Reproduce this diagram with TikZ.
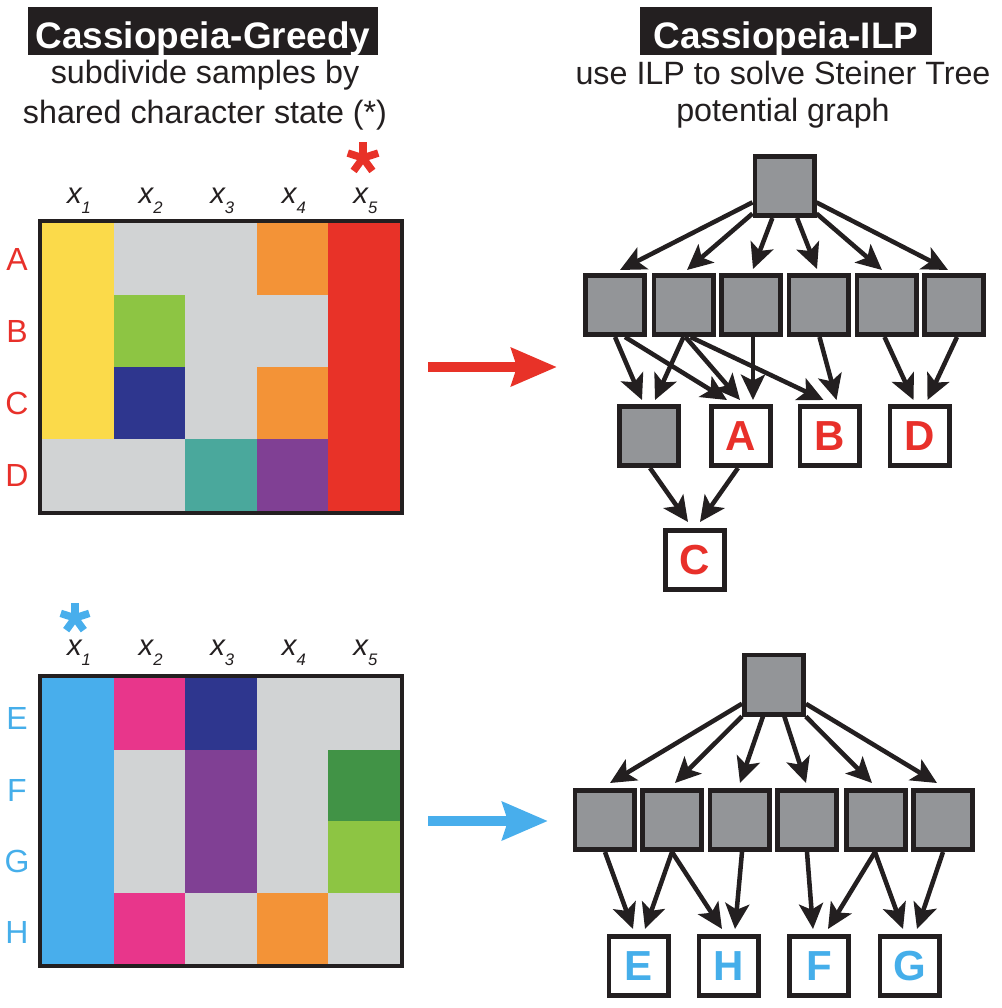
\documentclass[tikz,border=0pt]{standalone}
\usepackage{fontspec}
\setmainfont{Liberation Sans}
\usetikzlibrary{arrows.meta,calc}
\definecolor{ink}{HTML}{231F20}
\definecolor{nodegray}{HTML}{939598}
\definecolor{cgry}{HTML}{D1D3D4}
\definecolor{cyel}{HTML}{FBDA4A}
\definecolor{corg}{HTML}{F39337}
\definecolor{cred}{HTML}{E83228}
\definecolor{clgr}{HTML}{8DC543}
\definecolor{cnav}{HTML}{2E368E}
\definecolor{cteal}{HTML}{4AA89C}
\definecolor{cpur}{HTML}{804094}
\definecolor{cblu}{HTML}{48AEEC}
\definecolor{cpnk}{HTML}{E8368B}
\definecolor{cdgr}{HTML}{419346}
\definecolor{labred}{HTML}{E8302A}
\definecolor{labblu}{HTML}{45AEEA}
\tikzset{
  hdrtext/.style={text=white, font=\fontsize{27.7}{30}\selectfont\bfseries, inner sep=0pt, anchor=base},
  subtext/.style={text=ink, font=\fontsize{24.2}{26}\selectfont, inner sep=0pt, anchor=base},
  rowlab/.style={font=\fontsize{24}{24}\selectfont, inner sep=0pt},
  xlab/.style={text=ink, font=\fontsize{22}{22}\selectfont\itshape, inner sep=0pt, anchor=base west},
  gnode/.style={draw=ink, fill=nodegray, line width=3.4pt, minimum size=44.6pt, inner sep=0pt},
  wnode/.style={draw=ink, fill=white, line width=3.4pt, minimum size=44.6pt, inner sep=0pt, font=\fontsize{31.5}{31.5}\selectfont\bfseries},
  arr/.style={draw=ink, line width=3.4pt, -{Stealth[length=19pt 0 0,width=18pt 0 0,inset=4.5pt]}},
  bigarr/.style={line width=7.5pt, -{Stealth[length=34pt 0 0,width=28pt 0 0,inset=4pt]}},
  star/.style={line width=5.6pt},
  gridframe/.style={draw=ink, line width=3pt}
}
\newcommand{\xsub}[1]{x\raisebox{-7.5pt}{\fontsize{12.5}{12.5}\selectfont #1}}
\begin{document}
\begin{tikzpicture}[x=0.75pt,y=-0.75pt]
\useasboundingbox (0,0) rectangle (1002,1008);

% ---------- headers ----------
\fill[ink] (28,7) rectangle (378,55);
\node[hdrtext] (hdrL) at (203,48) {Cassiopeia-Greedy};
\node[subtext] (subL1) at (205,83) {subdivide samples by};
\node[subtext] (subL2) at (205,123) {shared character state (*)};
\fill[ink] (640,7) rectangle (932,55);
\node[hdrtext] (hdrR) at (786,48) {Cassiopeia-ILP};
\node[subtext] (subR1) at (783,84) {use ILP to solve Steiner Tree};
\node[subtext] (subR2) at (783,121) {potential graph};

% ---------- top grid ----------
\foreach \r/\cols in {0/{cyel,cgry,cgry,corg,cred},1/{cyel,clgr,cgry,cgry,cred},2/{cyel,cnav,cgry,corg,cred},3/{cgry,cgry,cteal,cpur,cred}}{
  \foreach \c [count=\i from 0] in \cols {
    \fill[\c] (42+71.6*\i,223+72*\r) rectangle ++(71.6,72);
  }
}
\draw[gridframe] (40,221) rectangle (402,513);
\foreach \i in {1,...,5}{
  \node[xlab] (tx\i) at (42+71.6*\i-35.8-11,203) {\xsub{\i}};
}
\node[rowlab, text=labred] (lA) at (17,259) {A};
\node[rowlab, text=labred] (lB) at (17,331) {B};
\node[rowlab, text=labred] (lC) at (17,403) {C};
\node[rowlab, text=labred] (lD) at (17,475) {D};
% red asterisk
\coordinate (rstar) at (363,158);
\foreach \a in {270,342,198,54,126}{
  \draw[star, cred] (rstar) -- ($(rstar)+(\a:16)$);
}

% ---------- bottom grid ----------
\foreach \r/\cols in {0/{cblu,cpnk,cnav,cgry,cgry},1/{cblu,cgry,cpur,cgry,cdgr},2/{cblu,cgry,cpur,cgry,clgr},3/{cblu,cpnk,cgry,corg,cgry}}{
  \foreach \c [count=\i from 0] in \cols {
    \fill[\c] (42+71.6*\i,678+71.5*\r) rectangle ++(71.6,71.5);
  }
}
\draw[gridframe] (40,676) rectangle (402,966);
\foreach \i in {1,...,5}{
  \node[xlab] (bx\i) at (42+71.6*\i-35.8-11,655) {\xsub{\i}};
}
\node[rowlab, text=labblu] (lE) at (17,718) {E};
\node[rowlab, text=labblu] (lF) at (17,790) {F};
\node[rowlab, text=labblu] (lG) at (17,861) {G};
\node[rowlab, text=labblu] (lH) at (17,932) {H};
\coordinate (bstar) at (75,618);
\foreach \a in {270,342,198,54,126}{
  \draw[star, cblu] (bstar) -- ($(bstar)+(\a:15)$);
}

% ---------- big arrows ----------
\coordinate (ra1) at (428,367);
\coordinate (ra2) at (557,367);
\draw[bigarr, cred] (ra1) -- (ra2);
\coordinate (ba1) at (428,821);
\coordinate (ba2) at (548,821);
\draw[bigarr, cblu] (ba1) -- (ba2);

% ---------- top tree ----------
\node[gnode] (T) at (784.5,186) {};
\foreach \n/\x in {1/615,2/683.5,3/751,4/818.5,5/886.5,6/954}{
  \node[gnode] (c\n) at (\x,305) {};
}
\node[gnode] (g) at (649,436) {};
\node[wnode, text=labred] (A) at (741,436) {A};
\node[wnode, text=labred] (B) at (829.5,436) {B};
\node[wnode, text=labred] (D) at (919.5,436) {D};
\node[wnode, text=labred] (C) at (695,560) {C};

\draw[arr] (T) -- ($(c1.north)+(5,-3)$);
\draw[arr] (T) -- ($(c2.north)+(3.5,-3)$);
\draw[arr] (T) -- ($(c3.north)+(2,-4)$);
\draw[arr] (T) -- ($(c4.north)+(-1.5,-4)$);
\draw[arr] (T) -- ($(c5.north)+(-4.5,-3)$);
\draw[arr] (T) -- ($(c6.north)+(-6,-3)$);

\draw[arr] ($(c1.south)+(0,0)$) -- ($(g.north)+(-7,-4)$);
\draw[arr] ($(c1.south)+(10,0)$) -- ($(A.north)+(-14,-4)$);
\draw[arr] ($(c2.south)+(0,0)$) -- ($(g.north)+(6,-4)$);
\draw[arr] ($(c2.south)+(2,0)$) -- ($(A.north)+(-1,-4)$);
\draw[arr] ($(c2.south)+(7,0)$) -- ($(B.north)+(-6,-4)$);
\draw[arr] ($(c3.south)+(2,0)$) -- ($(A.north)+(12,-4)$);
\draw[arr] ($(c4.south)+(1,0)$) -- ($(B.north)+(7,-4)$);
\draw[arr] ($(c5.south)+(-2,0)$) -- ($(D.north)+(-6,-4)$);
\draw[arr] ($(c6.south)+(3,0)$) -- ($(D.north)+(8,-4)$);
\draw[arr] ($(g.south)+(1,0)$) -- ($(C.north)+(-7,-6)$);
\draw[arr] ($(A.south)+(-3,0)$) -- ($(C.north)+(5,-6)$);

% ---------- bottom tree ----------
\node[gnode] (T2) at (774,684.5) {};
\foreach \n/\x in {1/604.5,2/672,3/739.5,4/807,5/876,6/943}{
  \node[gnode] (b\n) at (\x,820) {};
}
\node[wnode, text=labblu] (E) at (638.5,966) {E};
\node[wnode, text=labblu] (H) at (728.5,966) {H};
\node[wnode, text=labblu] (F) at (819,966) {F};
\node[wnode, text=labblu] (G) at (909.5,966) {G};

\draw[arr] (T2) -- ($(b1.north)+(5.5,-5)$);
\draw[arr] (T2) -- ($(b2.north)+(3,-5)$);
\draw[arr] (T2) -- ($(b3.north)+(0.5,-5)$);
\draw[arr] (T2) -- ($(b4.north)+(-1,-5)$);
\draw[arr] (T2) -- ($(b5.north)+(-4,-5)$);
\draw[arr] (T2) -- ($(b6.north)+(-6,-5)$);

\draw[arr] ($(b1.south)+(0.5,0)$) -- ($(E.north)+(-5.5,-5)$);
\draw[arr] ($(b2.south)+(0,0)$) -- ($(E.north)+(6.5,-5)$);
\draw[arr] ($(b2.south)+(0,0)$) -- ($(H.north)+(-6.5,-5)$);
\draw[arr] ($(b3.south)+(2.5,0)$) -- ($(H.north)+(6.5,-5)$);
\draw[arr] ($(b4.south)+(0,0)$) -- ($(F.north)+(-6,-5)$);
\draw[arr] ($(b5.south)+(-1,0)$) -- ($(F.north)+(9,-5)$);
\draw[arr] ($(b5.south)+(-1,0)$) -- ($(G.north)+(-6.5,-5)$);
\draw[arr] ($(b6.south)+(0,0)$) -- ($(G.north)+(7.5,-5)$);
\end{tikzpicture}
\end{document}
